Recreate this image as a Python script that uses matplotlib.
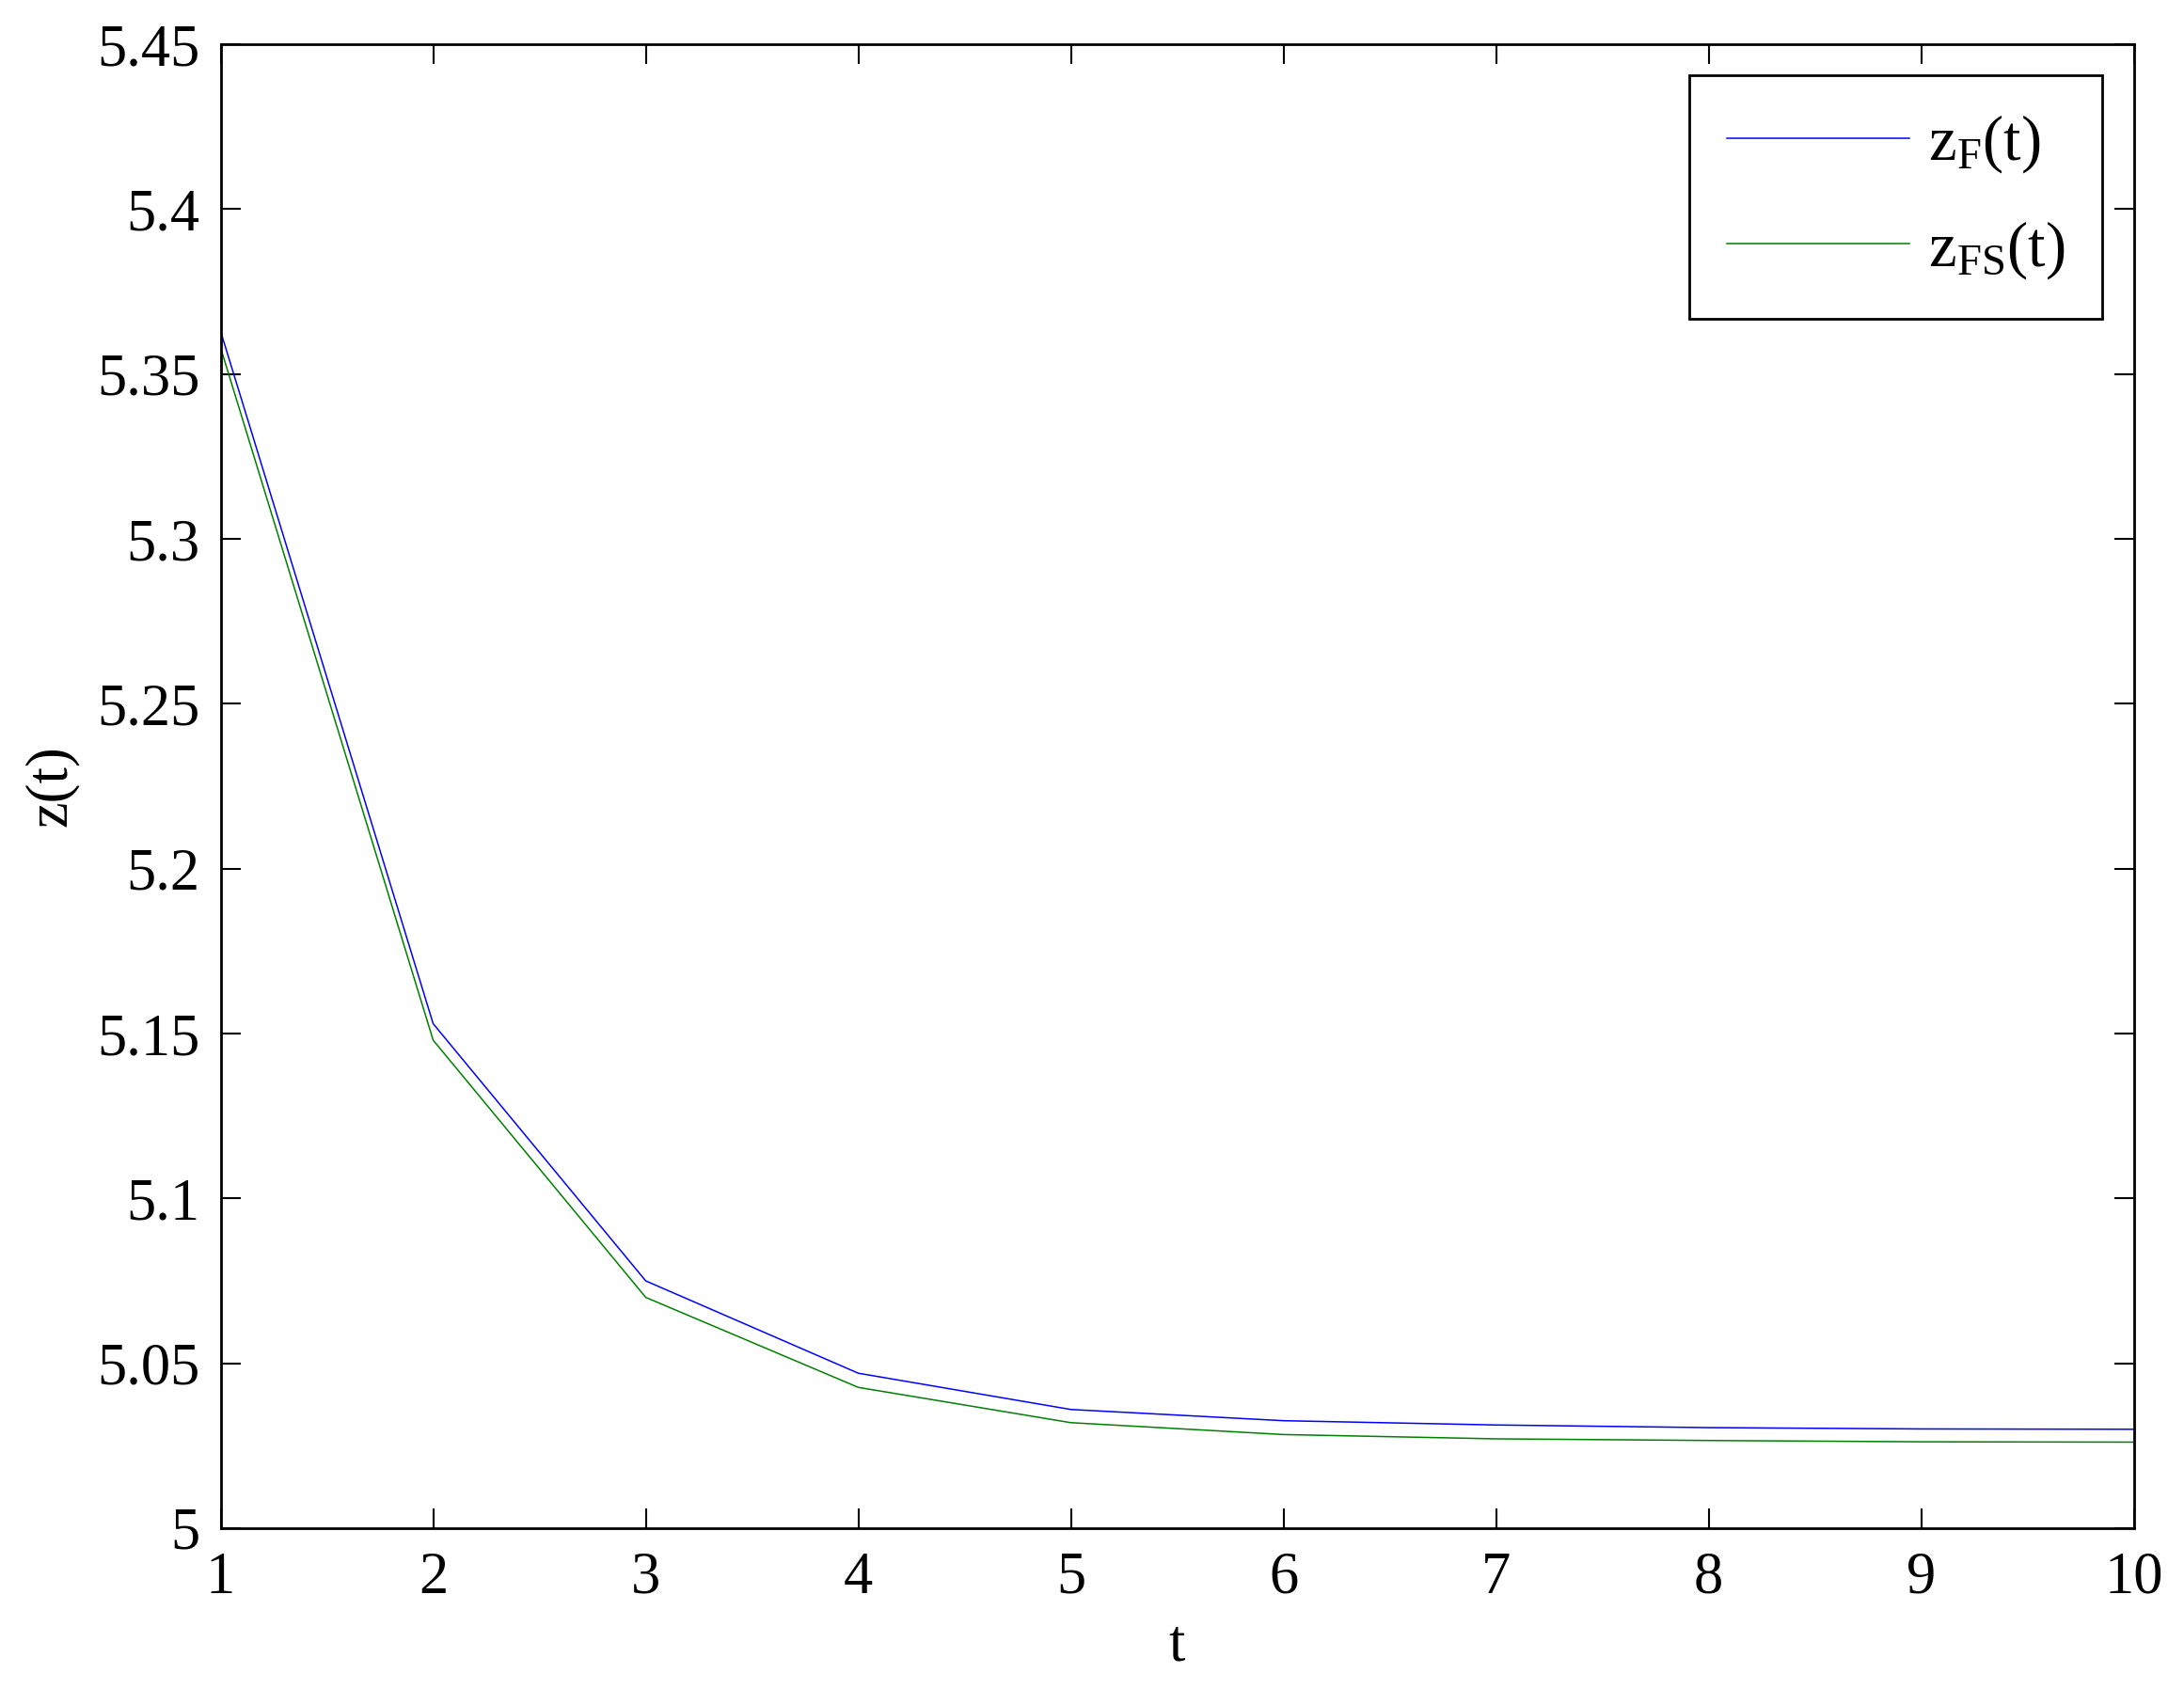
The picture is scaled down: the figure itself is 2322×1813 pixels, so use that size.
import matplotlib
matplotlib.use("Agg")
import matplotlib.pyplot as plt

plt.rcParams["font.family"] = ["Liberation Serif", "DejaVu Serif"]
plt.rcParams["mathtext.fontset"] = "custom"
plt.rcParams["mathtext.rm"] = "Liberation Serif"
plt.rcParams["mathtext.default"] = "regular"

t = [1, 2, 3, 4, 5, 6, 7, 8, 9, 10]
z_f = [5.363, 5.153, 5.075, 5.047, 5.036, 5.0326, 5.0313, 5.0305, 5.0301, 5.0300]
z_fs = [5.358, 5.148, 5.070, 5.0427, 5.032, 5.0284, 5.0271, 5.0266, 5.0262, 5.0261]

fig = plt.figure(figsize=(23.22, 18.13), dpi=100)
ax = fig.add_axes([0.101, 0.1037, 0.876, 0.8703])

ax.plot(t, z_f, color="#0000ff", lw=1.1, label=r"$z_{F}(t)$")
ax.plot(t, z_fs, color="#008000", lw=1.1, label=r"$z_{FS}(t)$")

ax.set_xlim(1, 10)
ax.set_ylim(5, 5.45)
ax.set_xticks(range(1, 11))
ax.set_yticks([5, 5.05, 5.1, 5.15, 5.2, 5.25, 5.3, 5.35, 5.4, 5.45])
ax.set_yticklabels(["5", "5.05", "5.1", "5.15", "5.2", "5.25", "5.3", "5.35", "5.4", "5.45"])
ax.tick_params(direction="in", length=15, width=1.5, labelsize=45,
               top=True, right=True)
ax.tick_params(axis="y", pad=16)
ax.tick_params(axis="x", pad=18)
for s in ax.spines.values():
    s.set_linewidth(2)

ax.set_xlabel("t", fontsize=45, labelpad=10)
ax.set_ylabel("z(t)", fontsize=45, labelpad=14)

leg = ax.legend(loc="upper right", fontsize=48, handlelength=2.9,
                fancybox=False, edgecolor="black", framealpha=1,
                borderaxespad=0.5, borderpad=0.6, labelspacing=0.7,
                handletextpad=0.3)
leg.get_frame().set_linewidth(2)

fig.savefig("out.png", dpi=100)
